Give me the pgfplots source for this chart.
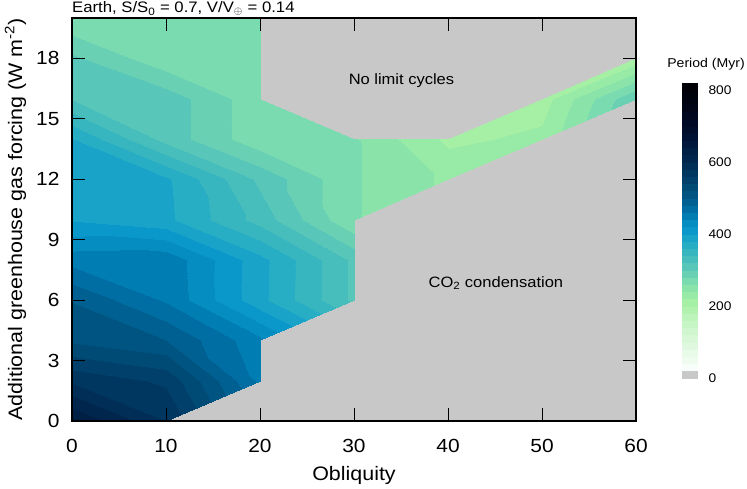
\documentclass[border=0pt]{standalone}
\usepackage{fontspec}
\setmainfont{Liberation Sans}[FakeStretch=1.1]
\usepackage{pgfplots}
\pgfplotsset{compat=1.18}
\pgfkeys{/pgf/number format/assume math mode=true}
\definecolor{bggray}{RGB}{200,200,200}

\begin{document}
\begin{tikzpicture}
\begin{axis}[
  name=main,
  scale only axis, width=564pt, height=403pt,
  xmin=0, xmax=60, ymin=0, ymax=20,
  xtick={0,10,...,60}, ytick={0,3,...,18},
  tick align=inside, major tick length=13pt,
  every tick/.style={black, line width=1pt},
  axis line style={line width=1.1pt},
  axis on top,
  axis background/.style={fill=bggray},
  ticklabel style={font=\fontsize{19}{19}\selectfont},
  xticklabel style={yshift=-15pt},
  yticklabel style={xshift=-9pt},
  xlabel={Obliquity},
  ylabel={Additional greenhouse gas forcing (W m\textsuperscript{-2})},
  label style={font=\fontsize{19.5}{20}\selectfont},
  xlabel style={at={(axis description cs:0.5,0)}, anchor=north, yshift=-42pt},
  ylabel style={at={([xshift=-42.4pt]axis description cs:0,0.5)}, anchor=south},
  title={Earth, S/S\textsubscript{0} = 0.7, V/V\textsubscript{$\oplus$} = 0.14},
  title style={at={(axis description cs:0,1)}, anchor=base west, yshift=-0.7pt, inner sep=0pt, font=\fontsize{15.2}{16}\selectfont},
  colormap={period}{
    rgb255=(200,200,200) rgb255=(247,253,249) rgb255=(240,251,240) rgb255=(232,250,232)
    rgb255=(224,248,224) rgb255=(215,247,215) rgb255=(207,246,207) rgb255=(198,245,198)
    rgb255=(188,244,188) rgb255=(177,242,175) rgb255=(165,240,165) rgb255=(152,234,167)
    rgb255=(138,228,170) rgb255=(122,218,176) rgb255=(105,208,180) rgb255=(88,198,184)
    rgb255=(72,190,188) rgb255=(55,182,192) rgb255=(40,174,196) rgb255=(25,163,200)
    rgb255=(10,152,202) rgb255=(5,140,192) rgb255=(0,125,178) rgb255=(0,110,162)
    rgb255=(0,96,145) rgb255=(0,84,130) rgb255=(0,74,118) rgb255=(0,64,106)
    rgb255=(0,55,96) rgb255=(0,46,86) rgb255=(0,38,77) rgb255=(0,31,68)
    rgb255=(0,24,59) rgb255=(0,18,51) rgb255=(0,14,44) rgb255=(0,10,37)
    rgb255=(0,7,30) rgb255=(0,5,24) rgb255=(0,3,18) rgb255=(0,2,12)
    rgb255=(0,0,6)
  },
  colormap access=piecewise constant,
  point meta min=0, point meta max=820,
  colorbar,
  colorbar style={
    name=cb,
    at={(parent axis.north east)}, anchor=north west,
    xshift=37pt, yshift=-65pt,
    scale only axis, width=17pt, height=295pt,
    colormap access=piecewise constant,
    ytick={0,200,...,800},
    yticklabel pos=right,
    axis line style={draw=none},
    major tick length=0pt,
    ytick style={draw=none},
    yticklabel style={xshift=6.5pt, font=\fontsize{12.5}{13}\selectfont},
    title={Period (Myr)},
    title style={at={(0.5,1)}, anchor=south, yshift=3pt, xshift=16pt, font=\fontsize{12.8}{13}\selectfont},
  },
]
% every grid cell split into two triangles along its upper-left / lower-right diagonal;
% cells with one missing corner give one triangle
\addplot[patch, patch type=triangle, shader=interp, point meta=explicit] table[meta=c] {
x y c
0 0 641
10 0 580
0 2 576
10 0 580
10 2 556
0 2 576
0 2 576
10 2 556
0 4 516
10 2 556
10 4 500
0 4 516
0 4 516
10 4 500
0 6 499
10 4 500
10 6 457
0 6 499
0 6 499
10 6 457
0 8 452
10 6 457
10 8 455
0 8 452
0 8 452
10 8 455
0 10 398
10 8 455
10 10 385
0 10 398
0 10 398
10 10 385
0 12 390
10 10 385
10 12 383
0 12 390
0 12 390
10 12 383
0 14 381
10 12 383
10 14 312
0 14 381
0 14 381
10 14 312
0 16 319
10 14 312
10 16 312
0 16 319
0 16 319
10 16 312
0 18 304
10 16 312
10 18 265
0 18 304
0 18 304
10 18 265
0 20 262
10 18 265
10 20 265
0 20 262
10 2 556
20 2 455
10 4 500
20 2 455
20 4 445
10 4 500
10 4 500
20 4 445
10 6 457
20 4 445
20 6 386
10 6 457
10 6 457
20 6 386
10 8 455
20 6 386
20 8 387
10 8 455
10 8 455
20 8 387
10 10 385
20 8 387
20 10 332
10 10 385
10 10 385
20 10 332
10 12 383
20 10 332
20 12 315
10 12 383
10 12 383
20 12 315
10 14 312
20 12 315
20 14 266
10 14 312
10 14 312
20 14 266
10 16 312
20 14 266
20 16 266
10 16 312
10 16 312
20 16 266
10 18 265
20 16 266
20 18 265
10 18 265
10 18 265
20 18 265
10 20 265
20 18 265
20 20 265
10 20 265
20 6 386
30 6 315
20 8 387
30 6 315
30 8 315
20 8 387
20 8 387
30 8 315
20 10 332
30 8 315
30 10 262
20 10 332
20 10 332
30 10 262
20 12 315
30 10 262
30 12 262
20 12 315
20 12 315
30 12 262
20 14 266
30 12 262
30 14 262
20 14 266
30 12 262
40 12 236
30 14 262
40 12 236
40 14 215
30 14 262
10 0 580
20 2 455
10 2 556
20 4 445
30 6 315
20 6 386
20 14 266
30 14 262
20 16 266
30 10 262
40 12 236
30 12 262
40 12 236
50 14 225
40 14 215
40 14 215
50 14 225
50 16 210
50 14 225
60 16 300
50 16 210
50 16 210
60 16 300
60 18 205
};
\node[anchor=base, font=\fontsize{15}{16}\selectfont] at (axis cs:35.05,16.72) {No limit cycles};
\node[anchor=base, font=\fontsize{15}{16}\selectfont] at (axis cs:45.1,6.65) {CO\textsubscript{2} condensation};
\end{axis}
\pgfresetboundingbox
\path[use as bounding box] ([xshift=-72pt,yshift=-67pt]main.south west) rectangle ([xshift=111pt,yshift=18pt]main.north east);
\end{tikzpicture}
\end{document}
